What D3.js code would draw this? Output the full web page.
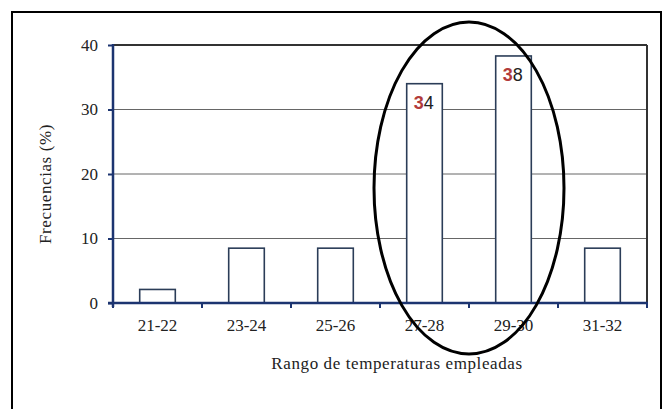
<!DOCTYPE html>
<html>
<head>
<meta charset="utf-8">
<script src="https://cdn.jsdelivr.net/npm/d3@7"></script>
<style>
  html, body { margin: 0; padding: 0; background: #fff; }
</style>
</head>
<body>
<div id="chart"></div>
<script>
const categories = ['21-22', '23-24', '25-26', '27-28', '29-30', '31-32'];
const values = [2.1, 8.5, 8.5, 34, 38.3, 8.5];
const yTicks = [0, 10, 20, 30, 40];
const barLabels = [null, null, null, ['3', '4'], ['3', '8'], null];

const width = 665;
const height = 409;
const margin = { top: 45, right: 18, bottom: 106, left: 113 };
const axisColor = '#1c3470';
const serif = "'Liberation Serif', 'Times New Roman', serif";
const sans = "'Liberation Sans', Arial, sans-serif";

const svg = d3.select('#chart')
  .append('svg')
  .attr('width', width)
  .attr('height', height);

// outer frame
svg.append('path')
  .attr('d', `M12,${height + 5} V12 H661 V${height + 5}`)
  .attr('fill', 'none')
  .attr('stroke', '#000')
  .attr('stroke-width', 2);

const x = d3.scaleBand()
  .domain(categories)
  .range([margin.left, width - margin.right])
  .paddingInner(0.6)
  .paddingOuter(0.3);

const y = d3.scaleLinear()
  .domain([0, 40])
  .range([height - margin.bottom, margin.top]);

const x0 = margin.left;
const x1 = width - margin.right;

// gridlines
svg.append('g')
  .selectAll('line')
  .data(yTicks.filter((d) => d > 0))
  .join('line')
  .attr('x1', x0)
  .attr('x2', x1)
  .attr('y1', (d) => y(d))
  .attr('y2', (d) => y(d))
  .attr('stroke', (d) => (d === 40 ? '#333' : '#666'))
  .attr('stroke-width', (d) => (d === 40 ? 2 : 1));

// right border
svg.append('line')
  .attr('x1', x1)
  .attr('x2', x1)
  .attr('y1', y(40))
  .attr('y2', y(0))
  .attr('stroke', '#333')
  .attr('stroke-width', 2);

// bars
svg.append('g')
  .selectAll('rect')
  .data(values)
  .join('rect')
  .attr('x', (d, i) => x(categories[i]))
  .attr('y', (d) => y(d))
  .attr('width', x.bandwidth())
  .attr('height', (d) => y(0) - y(d))
  .attr('fill', '#fff')
  .attr('stroke', '#2b3d58')
  .attr('stroke-width', 1.6);

// bar labels
values.forEach((v, i) => {
  const lab = barLabels[i];
  if (!lab) return;
  const t = svg.append('text')
    .attr('x', x(categories[i]) + 7)
    .attr('y', y(v) + 25)
    .style('font-family', sans)
    .style('font-size', '18px');
  t.append('tspan').attr('fill', '#b23b3b').attr('font-weight', 'bold').text(lab[0]);
  t.append('tspan').attr('fill', '#222').text(lab[1]);
});

// y axis
svg.append('g')
  .attr('transform', `translate(${x0},0)`)
  .call(d3.axisLeft(y).tickValues(yTicks).tickSize(5).tickPadding(10))
  .call((g) => g.select('.domain').remove())
  .call((g) => g.selectAll('.tick line').attr('stroke', axisColor).attr('stroke-width', 2))
  .call((g) => g.selectAll('.tick text')
    .style('font-family', serif)
    .style('font-size', '17px')
    .attr('fill', '#222'));

svg.append('line')
  .attr('x1', x0)
  .attr('x2', x0)
  .attr('y1', y(40) - 1)
  .attr('y2', y(0) + 4)
  .attr('stroke', axisColor)
  .attr('stroke-width', 2.5);

// x axis
const xg = svg.append('g')
  .attr('transform', `translate(0,${y(0)})`)
  .call(d3.axisBottom(x).tickSize(0).tickPadding(16))
  .call((g) => g.select('.domain').remove())
  .call((g) => g.selectAll('.tick text')
    .style('font-family', serif)
    .style('font-size', '17px')
    .attr('fill', '#222'));

const bounds = d3.range(categories.length + 1).map((i) => x0 + i * (x1 - x0) / categories.length);
xg.selectAll('line.sep')
  .data(bounds)
  .join('line')
  .attr('class', 'sep')
  .attr('x1', (d) => d)
  .attr('x2', (d) => d)
  .attr('y1', 0)
  .attr('y2', 5)
  .attr('stroke', axisColor)
  .attr('stroke-width', 2);

svg.append('line')
  .attr('x1', x0 - 5)
  .attr('x2', x1 + 1)
  .attr('y1', y(0))
  .attr('y2', y(0))
  .attr('stroke', axisColor)
  .attr('stroke-width', 2.5);

// axis titles
svg.append('text')
  .attr('transform', `translate(51,${(y(0) + y(40)) / 2 + 10}) rotate(-90)`)
  .attr('text-anchor', 'middle')
  .style('font-family', serif)
  .style('font-size', '17px')
  .attr('letter-spacing', 0.6)
  .attr('fill', '#222')
  .text('Frecuencias (%)');

svg.append('text')
  .attr('x', (x0 + x1) / 2 + 17)
  .attr('y', 369)
  .attr('text-anchor', 'middle')
  .style('font-family', serif)
  .style('font-size', '17px')
  .attr('letter-spacing', 0.6)
  .attr('fill', '#222')
  .text('Rango de temperaturas empleadas');

// highlight ellipse around the 27-28 and 29-30 bars
const cx = x(categories[3]) + (x(categories[4]) + x.bandwidth() - x(categories[3])) / 2;
svg.append('ellipse')
  .attr('cx', cx)
  .attr('cy', 188)
  .attr('rx', 95)
  .attr('ry', 166)
  .attr('fill', 'none')
  .attr('stroke', '#000')
  .attr('stroke-width', 3);
</script>
</body>
</html>
